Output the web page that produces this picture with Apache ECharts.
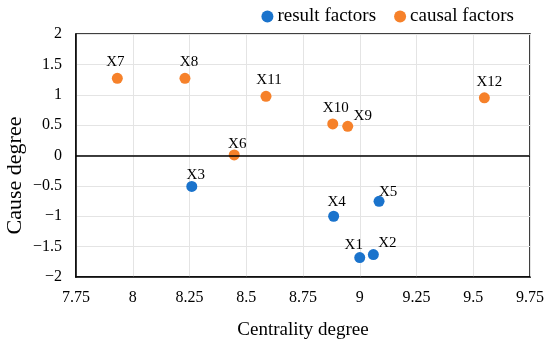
<!DOCTYPE html>
<html><head><meta charset="utf-8">
<script src="https://cdn.jsdelivr.net/npm/echarts@6/dist/echarts.min.js"></script>
<style>html,body{margin:0;padding:0;background:#fff}#c{width:550px;height:344px}</style>
</head><body><div id="c"></div>
<script>
const resultNames = ['X1','X2','X3','X4','X5'];
const resultX = [9.00, 9.06, 8.26, 8.885, 9.085];
const resultY = [-1.68, -1.63, -0.51, -1.00, -0.755];
const causalNames = ['X6','X7','X8','X9','X10','X11','X12'];
const causalX = [8.447, 7.932, 8.23, 8.947, 8.881, 8.587, 9.549];
const causalY = [0.01, 1.27, 1.27, 0.48, 0.52, 0.975, 0.95];
const xTicks = [7.75, 8, 8.25, 8.5, 8.75, 9, 9.25, 9.5, 9.75];
const yTicks = [-2, -1.5, -1, -0.5, 0, 0.5, 1, 1.5, 2];

const labelOffsets = {
  X1: [-6, 4], X2: [14, 5], X3: [4, 5], X4: [3, 2], X5: [9, 7],
  X6: [3, 5], X7: [-2, 0], X8: [4, 0], X9: [15, 6], X10: [3, 0],
  X11: [3, 0], X12: [5, 0]
};
const font = 'Liberation Serif, Times New Roman, serif';
function mk(names, xs, ys) {
  return names.map((n, i) => ({
    value: [xs[i], ys[i]], name: n,
    label: { offset: labelOffsets[n] || [0, 0] }
  }));
}
const fmt = v => (v < 0 ? '\u2212' + Math.abs(v) : String(v));
const chart = echarts.init(document.getElementById('c'), null, { renderer: 'canvas' });
chart.setOption({
  animation: false,
  textStyle: { fontFamily: font },
  legend: {
    right: 31, top: 2, itemWidth: 12, itemHeight: 12, itemGap: 18,
    textStyle: { fontFamily: font, fontSize: 19, color: '#000', padding: [0, 0, 0, -1] },
    data: [{ name: 'result factors', icon: 'circle' }, { name: 'causal factors', icon: 'circle' }]
  },
  grid: { left: 76, right: 20, top: 34, bottom: 67, containLabel: false, outerBoundsMode: 'none',
          show: true, borderColor: '#000', borderWidth: 1.5 },
  xAxis: {
    type: 'value', min: 7.75, max: 9.75, interval: 0.25,
    name: 'Centrality degree', nameLocation: 'middle', nameGap: 44,
    nameTextStyle: { fontFamily: font, fontSize: 19, color: '#000' },
    axisLine: { show: true, lineStyle: { color: '#000', width: 1.5 }, onZero: false },
    axisTick: { show: false },
    splitLine: { show: true, lineStyle: { color: '#e4e4e4' } },
    axisLabel: { fontFamily: font, fontSize: 16, color: '#000', margin: 13, formatter: v => String(+v.toFixed(2)) }
  },
  yAxis: {
    type: 'value', min: -2, max: 2, interval: 0.5,
    name: 'Cause degree', nameLocation: 'middle', nameGap: 50, nameRotate: 90, nameMoveOverlap: false,
    nameTextStyle: { fontFamily: font, fontSize: 22, color: '#000', padding: [0, 40, 0, 0] },
    axisLine: { show: true, lineStyle: { color: '#000', width: 1.5 } },
    axisTick: { show: false },
    splitLine: { show: true, lineStyle: { color: '#e4e4e4' } },
    axisLabel: { fontFamily: font, fontSize: 16, color: '#000', margin: 14, formatter: fmt }
  },
  series: [
    {
      name: 'result factors', type: 'scatter', symbolSize: 11,
      itemStyle: { color: '#1a73cc', opacity: 1 },
      label: { show: true, position: 'top', distance: 3, formatter: p => p.name, fontFamily: font, fontSize: 15, color: '#000' },
      data: mk(resultNames, resultX, resultY),
      markLine: {
        silent: true, symbol: 'none', label: { show: false },
        lineStyle: { color: '#000', width: 1.5, type: 'solid' },
        data: [{ yAxis: 0 }]
      }
    },
    {
      name: 'causal factors', type: 'scatter', symbolSize: 11,
      itemStyle: { color: '#f6812a', opacity: 1 },
      label: { show: true, position: 'top', distance: 3, formatter: p => p.name, fontFamily: font, fontSize: 15, color: '#000' },
      data: mk(causalNames, causalX, causalY)
    }
  ]
});
</script></body></html>
